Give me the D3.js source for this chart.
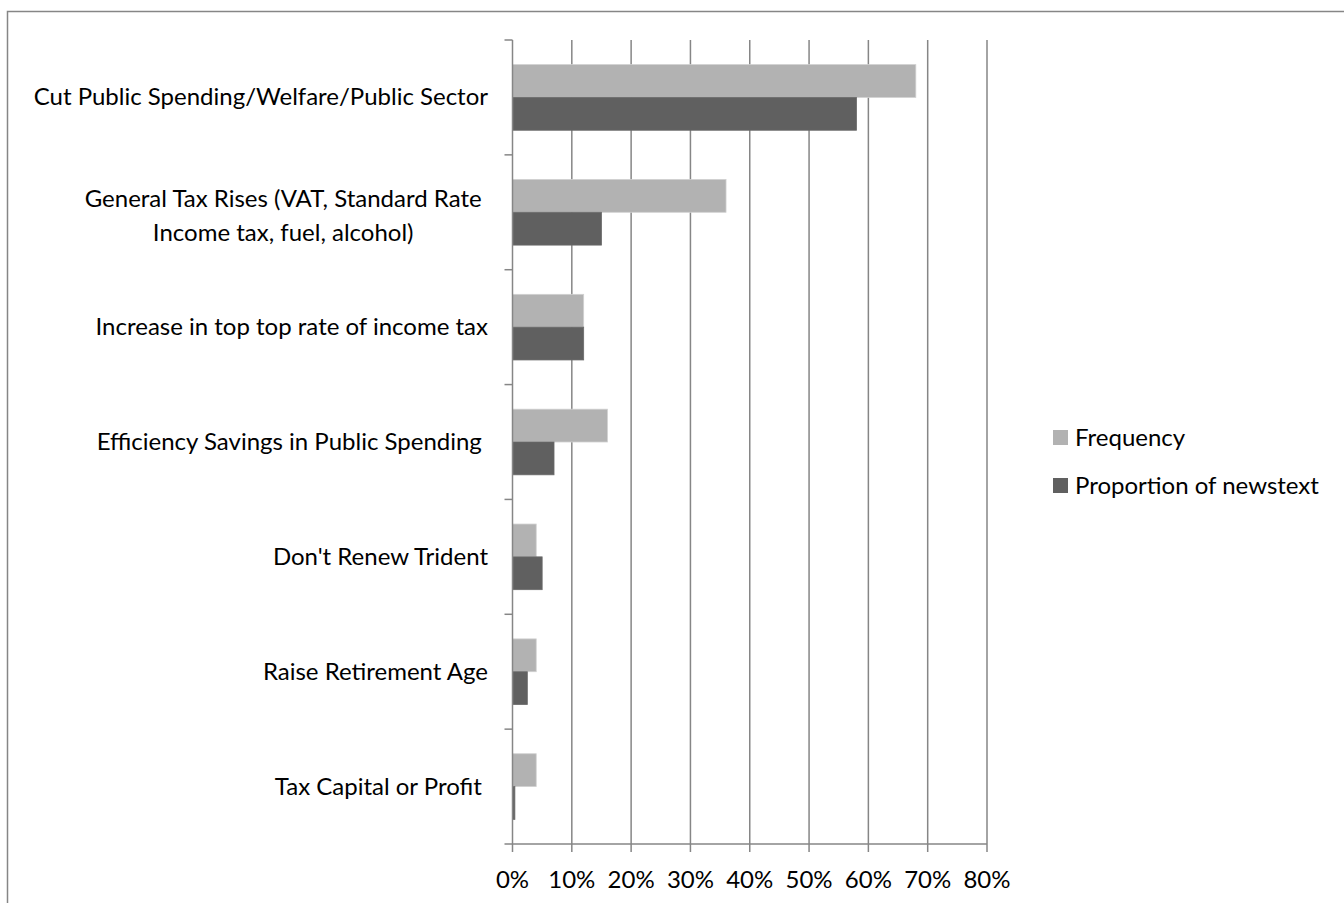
<!DOCTYPE html>
<html>
<head>
<meta charset="utf-8">
<script src="https://cdn.jsdelivr.net/npm/d3@7"></script>
<style>
  body { margin: 0; background: #fff; }
  svg text { font-family: Lato, "Open Sans", sans-serif; fill: #000; }
</style>
</head>
<body>
<svg id="chart" width="1344" height="903"></svg>
<script>
const categories = [
  "Cut Public Spending/Welfare/Public Sector",
  "General Tax Rises (VAT, Standard Rate \nIncome tax, fuel, alcohol)",
  "Increase in top top rate of income tax",
  "Efficiency Savings in Public Spending ",
  "Don't Renew Trident",
  "Raise Retirement Age",
  "Tax Capital or Profit "
];
const seriesNames = ["Frequency", "Proportion of newstext"];
const frequency = [0.68, 0.36, 0.12, 0.16, 0.04, 0.04, 0.04];
const proportion = [0.58, 0.15, 0.12, 0.07, 0.05, 0.025, 0.004];
const xTicks = [0, 0.1, 0.2, 0.3, 0.4, 0.5, 0.6, 0.7, 0.8];
const colors = ["#b2b2b2", "#606060"];

const svg = d3.select("#chart");
const gridColor = "#868686";
const fontSize = 24;
const labelRight = 488;

// outer chart frame (runs past the right and bottom edge)
svg.append("rect")
  .attr("x", 7.5).attr("y", 11.5)
  .attr("width", 1500).attr("height", 1000)
  .attr("fill", "none")
  .attr("stroke", gridColor)
  .attr("stroke-width", 1.5);

const x = d3.scaleLinear().domain([0, 0.8]).range([512.5, 987]);
const y = d3.scaleBand().domain(categories).range([40, 844]);
const sub = d3.scaleBand().domain(seriesNames).range([0, y.bandwidth()])
  .paddingInner(0).paddingOuter(0.75);

const rows = categories.map((c, i) => ({cat: c, vals: [frequency[i], proportion[i]]}));

// vertical gridlines
svg.append("g")
  .selectAll("line")
  .data(xTicks.slice(1))
  .join("line")
    .attr("x1", d => x(d)).attr("x2", d => x(d))
    .attr("y1", 40).attr("y2", 844)
    .attr("stroke", gridColor)
    .attr("stroke-width", 1.5);

// bars
const groups = svg.append("g")
  .selectAll("g")
  .data(rows)
  .join("g")
    .attr("transform", d => `translate(0,${y(d.cat)})`);

groups.selectAll("rect")
  .data(d => d.vals.map((v, j) => ({name: seriesNames[j], v: v, j: j})))
  .join("rect")
    .attr("x", x(0))
    .attr("y", d => sub(d.name))
    .attr("width", d => x(d.v) - x(0))
    .attr("height", sub.bandwidth())
    .attr("fill", d => colors[d.j])
    .attr("stroke", d => d.j === 0 ? "#d0d0d0" : "#6a6a6a")
    .attr("stroke-width", 0.8);

// category axis
svg.append("line")
  .attr("x1", x(0)).attr("x2", x(0))
  .attr("y1", 40).attr("y2", 844)
  .attr("stroke", gridColor).attr("stroke-width", 1.5);

svg.append("g")
  .selectAll("line")
  .data(categories)
  .join("line")
    .attr("x1", x(0) - 8).attr("x2", x(0))
    .attr("y1", d => y(d)).attr("y2", d => y(d))
    .attr("stroke", gridColor).attr("stroke-width", 1.5);

// category labels: block is right aligned, wrapped lines centred inside it
const catLabels = svg.append("g")
  .selectAll("text")
  .data(categories)
  .join("text")
    .attr("font-size", fontSize)
    .style("white-space", "pre")
    .attr("y", d => y(d) + y.bandwidth() / 2);

catLabels.each(function(d) {
  const lines = d.split("\n");
  const t = d3.select(this);
  if (lines.length === 1) {
    t.attr("text-anchor", "end").attr("x", labelRight)
      .append("tspan").attr("dy", "8px").text(d);
    return;
  }
  // measure widths so the lines can be centred on each other
  const spans = lines.map((ln, k) => t.append("tspan")
    .attr("dy", k === 0 ? (-(lines.length - 1) * 17 + 12) + "px" : "34px")
    .text(ln));
  const full = spans[0].node().getComputedTextLength();
  spans[0].text(lines[0].trimEnd());
  const trail = full - spans[0].node().getComputedTextLength();
  const widths = spans.map(s => s.node().getComputedTextLength());
  const cx = labelRight - trail - d3.max(widths) / 2;
  spans.forEach(s => s.attr("x", cx).attr("text-anchor", "middle"));
});

// value axis
svg.append("line")
  .attr("x1", x(0) - 8).attr("x2", x(0.8))
  .attr("y1", 844).attr("y2", 844)
  .attr("stroke", gridColor).attr("stroke-width", 1.5);

svg.append("g")
  .selectAll("line")
  .data(xTicks)
  .join("line")
    .attr("x1", d => x(d)).attr("x2", d => x(d))
    .attr("y1", 844).attr("y2", 852)
    .attr("stroke", gridColor).attr("stroke-width", 1.5);

svg.append("g")
  .selectAll("text")
  .data(xTicks)
  .join("text")
    .attr("text-anchor", "middle")
    .attr("font-size", fontSize)
    .attr("x", d => x(d))
    .attr("y", 888)
    .text(d => d3.format(".0%")(d));

// legend
const legend = svg.append("g")
  .selectAll("g")
  .data(seriesNames)
  .join("g")
    .attr("transform", (d, i) => `translate(1053,${430 + i * 48})`);

legend.append("rect")
  .attr("width", 15).attr("height", 15)
  .attr("fill", (d, i) => colors[i]);

legend.append("text")
  .attr("x", 22).attr("y", 16)
  .attr("font-size", fontSize)
  .text(d => d);
</script>
</body>
</html>
